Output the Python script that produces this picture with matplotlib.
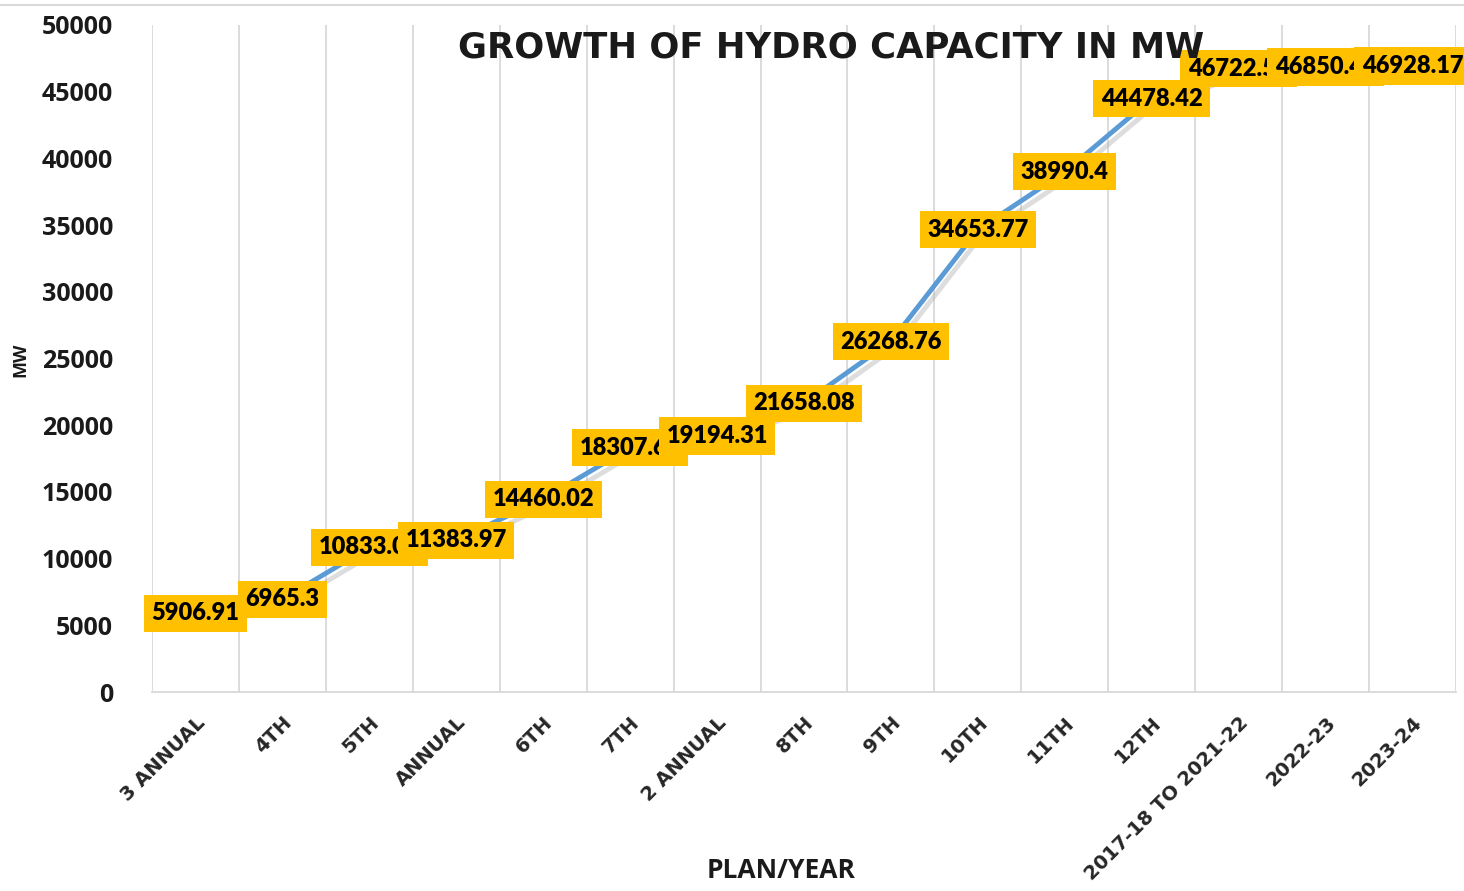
import matplotlib
matplotlib.use("Agg")
import matplotlib.pyplot as plt
import matplotlib.patheffects as pe

plans = ["3 ANNUAL", "4TH", "5TH", "ANNUAL", "6TH", "7TH", "2 ANNUAL", "8TH",
         "9TH", "10TH", "11TH", "12TH", "2017-18 TO 2021-22", "2022-23", "2023-24"]
capacity_mw = [5906.91, 6965.3, 10833.07, 11383.97, 14460.02, 18307.63, 19194.31,
               21658.08, 26268.76, 34653.77, 38990.4, 44478.42, 46722.52,
               46850.43, 46928.17]
y_ticks = [0, 5000, 10000, 15000, 20000, 25000, 30000, 35000, 40000, 45000, 50000]


def fmt(v):
    return f"{v:.2f}".rstrip("0").rstrip(".")


def main():
    fig = plt.figure(figsize=(14.64, 8.91), dpi=100)
    ax = fig.add_axes([152 / 1464, (891 - 692) / 891, (1456 - 152) / 1464, (692 - 25) / 891])

    x = list(range(len(plans)))
    ax.plot(x, capacity_mw, color="#5B9BD5", linewidth=3.5, solid_capstyle="round",
            path_effects=[pe.SimpleLineShadow(offset=(2, -5), shadow_color="#aaaaaa", alpha=0.4),
                          pe.Normal()], zorder=2)

    # data labels in yellow boxes, later ones drawn on top
    for i, v in enumerate(capacity_mw):
        ax.text(i, v, fmt(v), ha="center", va="center", fontsize=17, fontweight="heavy",
                family="Lato", color="black", zorder=3 + i, clip_on=False,
                bbox=dict(boxstyle="square,pad=0.32", facecolor="#FFC000", edgecolor="none"))

    ax.set_xlim(-0.5, len(plans) - 0.5)
    ax.set_ylim(0, 50000)
    ax.set_yticks(y_ticks)
    ax.set_yticklabels([str(t) for t in y_ticks], fontsize=18, fontweight="bold",
                       family="Open Sans", color="#1a1a1a")
    ax.set_xticks(x)
    ax.set_xticklabels(plans, rotation=45, ha="right", rotation_mode="anchor",
                       fontsize=14, fontweight="bold", family="DejaVu Sans", color="#262626")
    ax.tick_params(axis="both", length=0)
    ax.tick_params(axis="y", pad=28)
    ax.tick_params(axis="x", pad=15)

    # vertical gridlines between categories
    ax.set_xticks([i - 0.5 for i in range(len(plans) + 1)], minor=True)
    ax.tick_params(axis="x", which="minor", length=0)
    ax.grid(True, axis="x", which="minor", color="#d9d9d9", linewidth=1.3)
    ax.grid(False, axis="y")

    for s in ["top", "right", "left"]:
        ax.spines[s].set_visible(False)
    ax.spines["bottom"].set_color("#d9d9d9")
    ax.spines["bottom"].set_linewidth(1.3)

    fig.text(831 / 1464, 1 - 47 / 891, "GROWTH OF HYDRO CAPACITY IN MW", ha="center",
             va="center", fontsize=25.5, fontweight="bold", family="DejaVu Sans", color="#1a1a1a")
    fig.text(20 / 1464, 1 - 360 / 891, "MW", rotation=90, ha="center", va="center",
             fontsize=13, fontweight="bold", family="Open Sans", color="#1a1a1a")
    fig.text(781 / 1464, 1 - 870 / 891, "PLAN/YEAR", ha="center", va="center",
             fontsize=19, fontweight="bold", family="Open Sans", color="#1a1a1a")

    # chart border line at top
    fig.add_artist(plt.Line2D([0, 1], [1 - 5 / 891, 1 - 5 / 891], color="#d9d9d9", linewidth=1.5))

    fig.savefig("out.png", dpi=100)


if __name__ == "__main__":
    main()
